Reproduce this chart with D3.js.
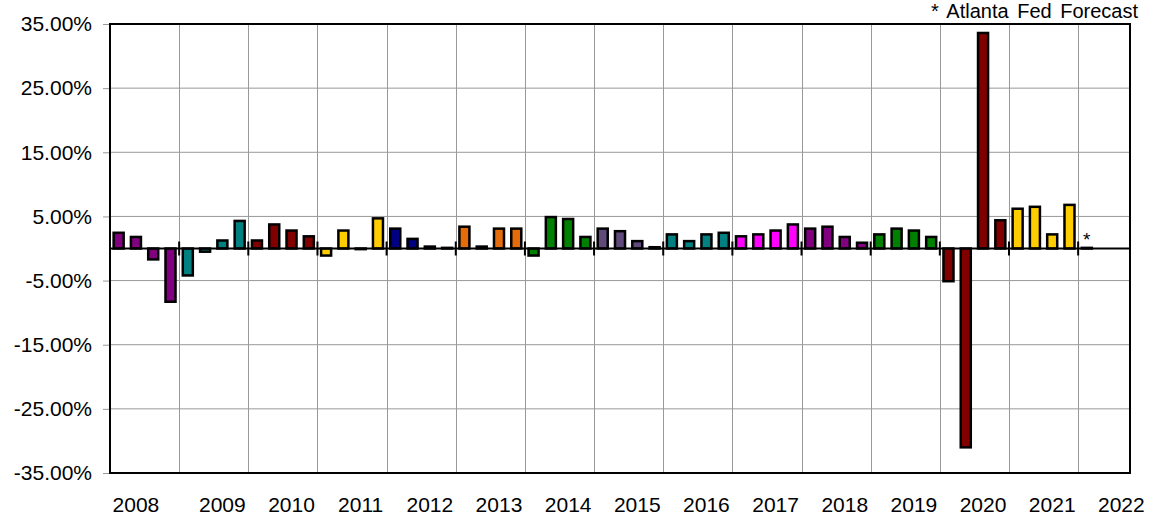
<!DOCTYPE html>
<html>
<head>
<meta charset="utf-8">
<script src="https://cdn.jsdelivr.net/npm/d3@7"></script>
<style>
  body { margin: 0; background: #fff; }
  text { font-family: "Liberation Sans", Arial, sans-serif; }
</style>
</head>
<body>
<div id="chart"></div>
<script>
// quarterly growth, 2008 Q1 .. 2022 Q1 (last one is the forecast)
var years = [2008, 2009, 2010, 2011, 2012, 2013, 2014, 2015, 2016, 2017, 2018, 2019, 2020, 2021, 2022];
var yearColors = ["#800080", "#008080", "#800000", "#FFCC00", "#000080", "#E46C0A", "#008000",
  "#604A7B", "#008080", "#FF00FF", "#800080", "#008000", "#800000", "#FFCC00", "#000000"];
var growth = [
  2.45, 1.8, -1.7, -8.3,
  -4.2, -0.5, 1.25, 4.3,
  1.25, 3.75, 2.8, 1.9,
  -1.1, 2.8, -0.1, 4.7,
  3.1, 1.5, 0.3, 0.1,
  3.4, 0.3, 3.1, 3.1,
  -1.1, 4.9, 4.6, 1.8,
  3.1, 2.7, 1.15, 0.2,
  2.2, 1.15, 2.2, 2.45,
  1.9, 2.2, 2.8, 3.75,
  3.1, 3.4, 1.8, 0.9,
  2.2, 3.1, 2.8, 1.8,
  -5.1, -31.0, 33.6, 4.4,
  6.2, 6.5, 2.2, 6.8,
  0.1
];
var yTicks = [35, 25, 15, 5, -5, -15, -25, -35];
// where the year labels sit on the category axis
var labelTicks = ["2008 Q2", "2009 Q3", "2010 Q3", "2011 Q3", "2012 Q3", "2013 Q3", "2014 Q3",
  "2015 Q3", "2016 Q3", "2017 Q3", "2018 Q3", "2019 Q3", "2020 Q3", "2021 Q3", "2022 Q3"];
var forecastNote = "* Atlanta Fed Forecast";

var svgWidth = 1153;
var svgHeight = 522;
var margin = { top: 24, right: 23, bottom: 49, left: 110 };
var width = svgWidth - margin.left - margin.right;
var height = svgHeight - margin.top - margin.bottom;

// all quarter categories (axis runs on to 2022 Q3)
var categories = [];
years.forEach(function(y) {
  ["Q1", "Q2", "Q3", "Q4"].forEach(function(q) {
    if (y < 2022 || q != "Q4") categories.push(y + " " + q);
  });
});

var data = growth.map(function(v, i) {
  return { cat: categories[i], value: v, year: years[Math.floor(i / 4)], idx: Math.floor(i / 4) };
});

var svg = d3.select("#chart").append("svg")
  .attr("width", svgWidth)
  .attr("height", svgHeight);

var chartGroup = svg.append("g")
  .attr("transform", `translate(${margin.left}, ${margin.top})`);

var x = d3.scaleBand()
  .domain(categories)
  .range([0, width])
  .paddingInner(0.42)
  .paddingOuter(0.21);

var y = d3.scaleLinear()
  .domain([-35, 35])
  .range([height, 0]);

// horizontal grid
chartGroup.append("g")
  .selectAll("line")
  .data(yTicks)
  .enter().append("line")
  .attr("x1", 0).attr("x2", width)
  .attr("y1", d => y(d)).attr("y2", d => y(d))
  .attr("stroke", "#999")
  .attr("stroke-width", 1);

// vertical grid at each year start (2009 onward)
var yearStarts = categories.filter(c => c.endsWith("Q1"));
chartGroup.append("g")
  .selectAll("line")
  .data(yearStarts.slice(1))
  .enter().append("line")
  .attr("x1", d => Math.round(x(d) - x.step() * 0.21) + 0.5)
  .attr("x2", d => Math.round(x(d) - x.step() * 0.21) + 0.5)
  .attr("y1", 0).attr("y2", height)
  .attr("stroke", "#999")
  .attr("stroke-width", 1);

// y axis
var leftAxis = d3.axisLeft(y).tickValues(yTicks).tickSize(7).tickPadding(11)
  .tickFormat(d => d.toFixed(2) + "%");
var yAxisG = chartGroup.append("g").call(leftAxis);
yAxisG.select(".domain").remove();
yAxisG.selectAll("line").attr("stroke", "#999");
yAxisG.selectAll("text")
  .attr("font-size", "21px")
  .attr("font-family", "Liberation Sans, Arial, sans-serif")
  .attr("fill", "#000");

// x axis labels
var bottomAxis = d3.axisBottom(x).tickValues(labelTicks).tickSize(0).tickPadding(24)
  .tickFormat(d => d.split(" ")[0]);
var xAxisG = chartGroup.append("g")
  .attr("transform", `translate(0, ${height})`)
  .call(bottomAxis);
xAxisG.select(".domain").remove();
xAxisG.selectAll("text")
  .attr("font-size", "21px")
  .attr("font-family", "Liberation Sans, Arial, sans-serif")
  .attr("fill", "#000");

// bars
chartGroup.append("g")
  .selectAll("rect")
  .data(data)
  .enter().append("rect")
  .attr("x", d => x(d.cat))
  .attr("width", x.bandwidth())
  .attr("y", d => y(Math.max(0, d.value)))
  .attr("height", d => Math.abs(y(d.value) - y(0)))
  .attr("fill", d => yearColors[d.idx])
  .attr("stroke", "#000")
  .attr("stroke-width", 2.5);

// zero line and its ticks
chartGroup.append("line")
  .attr("x1", 0).attr("x2", width)
  .attr("y1", y(0)).attr("y2", y(0))
  .attr("stroke", "#000")
  .attr("stroke-width", 2);

chartGroup.append("g")
  .selectAll("line")
  .data(yearStarts)
  .enter().append("line")
  .attr("x1", d => x(d) - x.step() * 0.21)
  .attr("x2", d => x(d) - x.step() * 0.21)
  .attr("y1", y(0) - 7).attr("y2", y(0) + 7)
  .attr("stroke", "#000")
  .attr("stroke-width", 2);

// plot frame
chartGroup.append("rect")
  .attr("x", 0).attr("y", 0)
  .attr("width", width).attr("height", height)
  .attr("fill", "none")
  .attr("stroke", "#000")
  .attr("stroke-width", 2);

// forecast marker
var last = data[data.length - 1];
chartGroup.append("text")
  .attr("x", x(last.cat) + x.bandwidth() / 2)
  .attr("y", y(0) - 3)
  .attr("text-anchor", "middle")
  .attr("font-size", "19px")
  .text("*");

svg.append("text")
  .attr("x", 1138)
  .attr("y", 18)
  .attr("text-anchor", "end")
  .attr("font-size", "20px")
  .attr("word-spacing", "3px")
  .text(forecastNote);
</script>
</body>
</html>
